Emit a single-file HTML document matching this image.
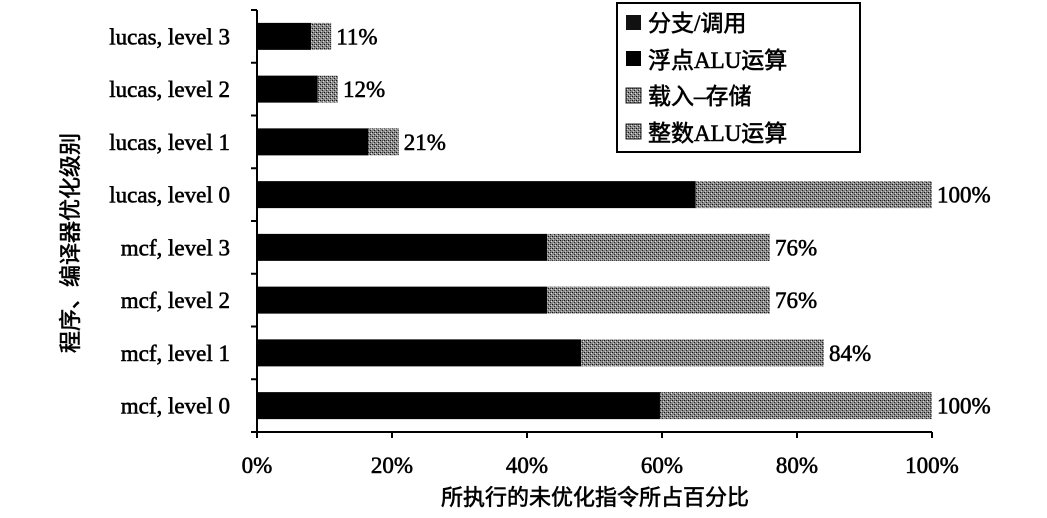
<!DOCTYPE html>
<html><head><meta charset="utf-8">
<style>
body{margin:0;background:#fff;}
svg{display:block;font-family:"Liberation Serif","Noto Serif CJK SC",serif;}
text{stroke:#000;stroke-width:0.6px;}
</style></head>
<body>
<svg id="chart" width="1047" height="518" viewBox="0 0 1047 518">
<defs>
<pattern id="dots" width="4" height="4" patternUnits="userSpaceOnUse">
<rect width="4" height="4" fill="#8a8a8a"/>
<rect x="0" y="0" width="1" height="1" fill="#111"/>
<rect x="2" y="2" width="1" height="1" fill="#222"/>
<rect x="2" y="0" width="1" height="1" fill="#444"/>
<rect x="3" y="1" width="1" height="1" fill="#ddd"/>
<rect x="1" y="3" width="1" height="1" fill="#ccc"/>
</pattern>
</defs>
<g id="plot"></g>
<text x="595" y="505" text-anchor="middle" font-size="22" font-family="Liberation Serif,Noto Sans CJK SC,sans-serif">所执行的未优化指令所占百分比</text>
<text transform="translate(78,243) rotate(-90)" text-anchor="middle" font-size="22" font-family="Liberation Serif,Noto Sans CJK SC,sans-serif">程序、编译器优化级别</text>
<g>
<rect x="617" y="3" width="243" height="149" fill="#fff" stroke="#000" stroke-width="2"/>
<g><rect x="626" y="15" width="15" height="15" fill="#111"/><text x="648" y="31" font-size="23" font-family="Liberation Serif,Noto Sans CJK SC,sans-serif">分支/调用</text></g>
<g><rect x="626" y="51" width="15" height="15" fill="#000"/><text x="648" y="68" font-size="23" font-family="Liberation Serif,Noto Sans CJK SC,sans-serif">浮点ALU运算</text></g>
<g><rect x="626" y="88" width="15" height="15" fill="url(#dots)" stroke="#222"/><text x="648" y="104" font-size="23" font-family="Liberation Serif,Noto Sans CJK SC,sans-serif">载入–存储</text></g>
<g><rect x="626" y="124" width="15" height="15" fill="url(#dots)" stroke="#222"/><text x="648" y="141" font-size="23" font-family="Liberation Serif,Noto Sans CJK SC,sans-serif">整数ALU运算</text></g>
</g>
</svg>
<script>
const categories = ["lucas, level 3","lucas, level 2","lucas, level 1","lucas, level 0","mcf, level 3","mcf, level 2","mcf, level 1","mcf, level 0"];
const branchVals = [8, 9, 16.5, 65, 43, 43, 48, 59.7];
const floatVals = [0, 0, 0, 0, 0, 0, 0, 0];
const loadStoreVals = [2, 2, 3, 25, 25, 25, 27, 30];
const integerVals = [1, 1, 1.5, 10, 8, 8, 9, 10.3];
const totalLabels = ["11%","12%","21%","100%","76%","76%","84%","100%"];
const xTicks = [0, 20, 40, 60, 80, 100];
const xTickLabels = ["0%","20%","40%","60%","80%","100%"];

const NS = "http://www.w3.org/2000/svg";
const g = document.getElementById("plot");
const X0 = 257, X1 = 932, YT = 10, YB = 432;
const band = (YB - YT) / categories.length;
const xs = v => X0 + (X1 - X0) * v / 100;
const ys = i => YT + band * i + band / 2;
function mk(tag, attrs){const e=document.createElementNS(NS,tag);for(const k in attrs)e.setAttribute(k,attrs[k]);g.appendChild(e);return e;}

const series = [[branchVals,"#000"],[floatVals,"#000"],[loadStoreVals,"url(#dots)"],[integerVals,"url(#dots)"]];
const snames = ["branch","float","loadstore","integer"];
categories.forEach((c,i)=>{
  let acc = 0;
  series.forEach((s,si)=>{
    const v = s[0][i];
    if(v>0){
      const r = mk("rect",{x:xs(acc),y:ys(i)-13.5,width:xs(acc+v)-xs(acc),height:27,fill:s[1]});
      
      
    }
    acc += v;
  });
  const t = mk("text",{x:xs(acc)+5,y:ys(i)+8,"font-size":23});
  t.textContent = totalLabels[i];
  
  
  const l = mk("text",{x:X0-27,y:ys(i)+8,"font-size":23,"text-anchor":"end"});
  l.textContent = c;
  
  
});
for(let i=0;i<=categories.length;i++){
  const tk = mk("line",{x1:X0-6,x2:X0,y1:YT+band*i,y2:YT+band*i,stroke:"#000","stroke-width":2});
  
  
}
const ya = mk("line",{x1:X0,x2:X0,y1:YT,y2:YB,stroke:"#000","stroke-width":2});


const xa = mk("line",{x1:X0,x2:X1,y1:YB,y2:YB,stroke:"#000","stroke-width":2});


xTicks.forEach((v,i)=>{
  const tk = mk("line",{x1:xs(v),x2:xs(v),y1:YB,y2:YB+6,stroke:"#000","stroke-width":2});
  
  
  const t = mk("text",{x:xs(v),y:YB+41,"font-size":23,"text-anchor":"middle"});
  t.textContent = xTickLabels[i];
  
  
});
</script>
</body></html>
